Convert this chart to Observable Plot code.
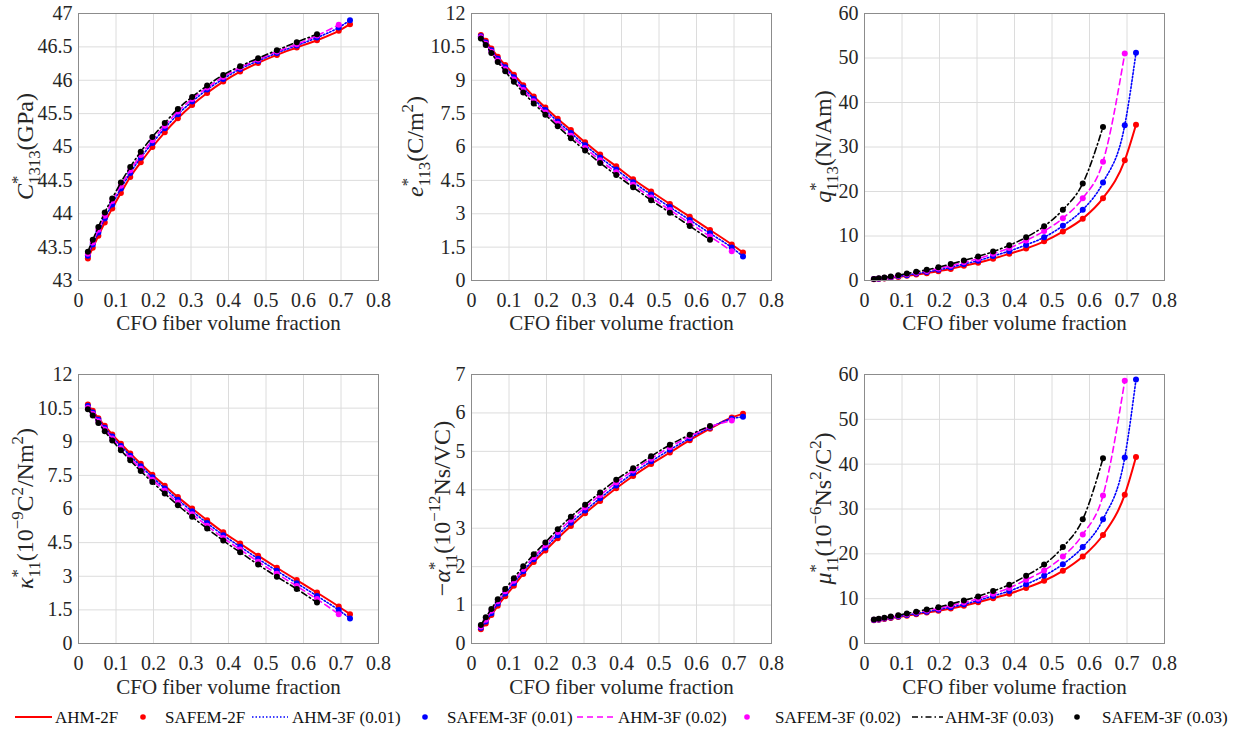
<!DOCTYPE html>
<html>
<head>
<meta charset="utf-8">
<script src="https://cdn.jsdelivr.net/npm/d3@7"></script>
<script src="https://cdn.jsdelivr.net/npm/@observablehq/plot@0.6"></script>
<style>
  html, body { margin: 0; padding: 0; background: #fff; }
  #root { position: relative; width: 1245px; height: 730px; overflow: hidden; font-family: "Liberation Serif", "Times New Roman", serif; }
  .panel { position: absolute; }
</style>
</head>
<body>
<div id="root"></div>
<script>
// ---------------- DATA ----------------
const X = [0.025, 0.038, 0.053, 0.070, 0.090, 0.113, 0.138, 0.166, 0.197, 0.230, 0.265, 0.303, 0.343, 0.386, 0.431, 0.479, 0.529, 0.582, 0.636, 0.694, 0.724];
const xTicks = [0, 0.1, 0.2, 0.3, 0.4, 0.5, 0.6, 0.7, 0.8];

const seriesNames = ["AHM-2F", "SAFEM-2F", "AHM-3F (0.01)", "SAFEM-3F (0.01)", "AHM-3F (0.02)", "SAFEM-3F (0.02)", "AHM-3F (0.03)", "SAFEM-3F (0.03)"];

// C*1313 (GPa)
const c1313_2F = [43.33, 43.49, 43.67, 43.87, 44.08, 44.31, 44.55, 44.77, 45.00, 45.22, 45.43, 45.63, 45.81, 45.98, 46.13, 46.26, 46.38, 46.49, 46.60, 46.74, 46.84];
const c1313_01 = [43.37, 43.54, 43.72, 43.93, 44.14, 44.38, 44.61, 44.84, 45.06, 45.28, 45.49, 45.68, 45.86, 46.02, 46.17, 46.29, 46.41, 46.52, 46.64, 46.79, 46.90];
const c1313_02 = [43.40, 43.57, 43.76, 43.97, 44.19, 44.42, 44.65, 44.88, 45.10, 45.32, 45.53, 45.72, 45.89, 46.05, 46.19, 46.31, 46.43, 46.54, 46.67, 46.83];
const c1313_03 = [43.43, 43.61, 43.80, 44.02, 44.23, 44.47, 44.70, 44.93, 45.15, 45.36, 45.57, 45.75, 45.92, 46.08, 46.21, 46.33, 46.45, 46.57, 46.69];
const c1313_ticks = [43, 43.5, 44, 44.5, 45, 45.5, 46, 46.5, 47];

// e*113 (C/m^2)
const e113_2F = [11.03, 10.77, 10.43, 10.06, 9.68, 9.25, 8.78, 8.27, 7.78, 7.27, 6.76, 6.21, 5.66, 5.13, 4.55, 4.00, 3.44, 2.87, 2.27, 1.62, 1.26];
const e113_01 = [10.98, 10.70, 10.35, 9.97, 9.58, 9.14, 8.67, 8.16, 7.66, 7.15, 6.63, 6.08, 5.53, 4.99, 4.42, 3.86, 3.30, 2.72, 2.12, 1.48, 1.08];
const e113_02 = [10.93, 10.64, 10.28, 9.89, 9.49, 9.03, 8.56, 8.06, 7.55, 7.04, 6.51, 5.96, 5.40, 4.86, 4.30, 3.73, 3.17, 2.58, 1.98, 1.32];
const e113_03 = [10.88, 10.58, 10.22, 9.82, 9.40, 8.93, 8.45, 7.96, 7.45, 6.93, 6.39, 5.84, 5.28, 4.74, 4.19, 3.61, 3.05, 2.45, 1.83];
const e113_ticks = [0, 1.5, 3, 4.5, 6, 7.5, 9, 10.5, 12];

// q*113 (N/Am)
const q113_2F = [0.30, 0.35, 0.45, 0.60, 0.80, 1.05, 1.35, 1.65, 2.10, 2.60, 3.30, 4.00, 4.90, 6.00, 7.20, 8.80, 11.0, 13.9, 18.5, 27.0, 35.0];
const q113_01 = [0.32, 0.40, 0.52, 0.70, 0.93, 1.20, 1.55, 1.90, 2.40, 2.95, 3.70, 4.45, 5.50, 6.60, 8.00, 9.70, 12.3, 15.9, 22.0, 34.9, 51.2];
const q113_02 = [0.33, 0.45, 0.60, 0.80, 1.06, 1.38, 1.75, 2.15, 2.70, 3.30, 4.10, 4.90, 6.00, 7.30, 9.00, 11.1, 14.0, 18.5, 26.7, 51.0];
const q113_03 = [0.35, 0.50, 0.67, 0.90, 1.20, 1.55, 1.95, 2.40, 3.00, 3.70, 4.50, 5.40, 6.50, 7.90, 9.70, 12.2, 15.9, 21.8, 34.5];
const q113_ticks = [0, 10, 20, 30, 40, 50, 60];

// kappa*11 (1e-9 C^2/Nm^2)
const k11_2F = [10.66, 10.38, 10.05, 9.71, 9.32, 8.91, 8.48, 8.02, 7.53, 7.04, 6.53, 6.02, 5.50, 4.96, 4.46, 3.92, 3.38, 2.83, 2.27, 1.65, 1.31];
const k11_01 = [10.59, 10.31, 9.98, 9.63, 9.23, 8.81, 8.38, 7.91, 7.42, 6.92, 6.41, 5.90, 5.37, 4.83, 4.32, 3.78, 3.24, 2.69, 2.12, 1.49, 1.12];
const k11_02 = [10.52, 10.24, 9.91, 9.55, 9.15, 8.72, 8.27, 7.80, 7.31, 6.81, 6.29, 5.77, 5.25, 4.71, 4.19, 3.65, 3.11, 2.56, 1.98, 1.31];
const k11_03 = [10.45, 10.17, 9.84, 9.47, 9.06, 8.62, 8.17, 7.69, 7.20, 6.69, 6.17, 5.65, 5.13, 4.59, 4.07, 3.52, 2.98, 2.43, 1.83];
const k11_ticks = [0, 1.5, 3, 4.5, 6, 7.5, 9, 10.5, 12];

// -alpha*11 (1e-12 Ns/VC)
const a11_2F = [0.37, 0.52, 0.74, 0.98, 1.23, 1.50, 1.81, 2.12, 2.42, 2.74, 3.06, 3.39, 3.71, 4.04, 4.36, 4.67, 4.97, 5.29, 5.59, 5.88, 5.98];
const a11_01 = [0.41, 0.57, 0.79, 1.04, 1.30, 1.57, 1.88, 2.19, 2.49, 2.82, 3.14, 3.46, 3.78, 4.11, 4.43, 4.74, 5.04, 5.34, 5.62, 5.85, 5.90];
const a11_02 = [0.44, 0.62, 0.85, 1.10, 1.36, 1.63, 1.94, 2.25, 2.56, 2.90, 3.22, 3.54, 3.86, 4.19, 4.50, 4.81, 5.11, 5.39, 5.64, 5.80];
const a11_03 = [0.48, 0.68, 0.90, 1.15, 1.42, 1.70, 2.01, 2.32, 2.63, 2.97, 3.30, 3.61, 3.93, 4.26, 4.56, 4.87, 5.17, 5.43, 5.66];
const a11_ticks = [0, 1, 2, 3, 4, 5, 6, 7];

// mu*11 (1e-6 Ns^2/C^2)
const mu11_2F = [5.20, 5.30, 5.45, 5.70, 5.90, 6.20, 6.50, 6.90, 7.30, 7.80, 8.40, 9.20, 10.1, 11.1, 12.4, 14.0, 16.2, 19.4, 24.2, 33.2, 41.6];
const mu11_01 = [5.25, 5.37, 5.55, 5.80, 6.03, 6.35, 6.70, 7.10, 7.55, 8.10, 8.75, 9.60, 10.6, 11.7, 13.2, 15.1, 17.7, 21.5, 27.7, 41.5, 58.9];
const mu11_02 = [5.30, 5.43, 5.65, 5.90, 6.17, 6.52, 6.90, 7.35, 7.82, 8.45, 9.15, 10.0, 11.1, 12.4, 14.2, 16.3, 19.4, 24.3, 33.0, 58.6];
const mu11_03 = [5.35, 5.50, 5.75, 6.00, 6.30, 6.70, 7.10, 7.60, 8.10, 8.80, 9.60, 10.5, 11.7, 13.1, 15.1, 17.6, 21.5, 27.7, 41.3];
const mu11_ticks = [0, 10, 20, 30, 40, 50, 60];

const xLabel = "CFO fiber volume fraction";

// ---------------- STYLE ----------------
const styles = [
  {color: "#ff0000", dash: null,          width: 2},
  {color: "#0000ff", dash: "1.5,2",       width: 1.6},
  {color: "#ff00ff", dash: "6,4",         width: 1.6},
  {color: "#000000", dash: "6,3,1.5,3",   width: 1.6}
];

const FONT = "'Liberation Serif', 'Times New Roman', serif";

// label parts: [text, kind] kind: "" normal, "i" italic, "sup", "sub", "under" (subscript under previous sup)
const panels = [
  {left: 0,   top: 0,   ml: 78, mt: 13, h: 340, mb: 60, ylx: 25, series: [c1313_2F, c1313_01, c1313_02, c1313_03], yTicks: c1313_ticks,
   label: [["C","i"],["*","sup"],["1313","under"],["(GPa)",""]]},
  {left: 400, top: 0,   ml: 71, mt: 13, h: 340, mb: 60, ylx: 15, series: [e113_2F, e113_01, e113_02, e113_03], yTicks: e113_ticks,
   label: [["e","i"],["*","sup"],["113","under"],["(C/m",""],["2","sup"],[")",""]]},
  {left: 800, top: 0,   ml: 64, mt: 13, h: 340, mb: 60, ylx: 23, series: [q113_2F, q113_01, q113_02, q113_03], yTicks: q113_ticks,
   label: [["q","i"],["*","sup"],["113","under"],["(N/Am)",""]]},
  {left: 0,   top: 340, ml: 78, mt: 34, h: 360, mb: 57, ylx: 25, series: [k11_2F, k11_01, k11_02, k11_03], yTicks: k11_ticks,
   label: [["κ","i"],["*","sup"],["11","under"],["(10",""],["−9","sup"],["C",""],["2","sup"],["/Nm",""],["2","sup"],[")",""]]},
  {left: 400, top: 340, ml: 71, mt: 34, h: 360, mb: 57, ylx: 42, series: [a11_2F, a11_01, a11_02, a11_03], yTicks: a11_ticks,
   label: [["−",""],["α","i"],["*","sup"],["11","under"],["(10",""],["−12","sup"],["Ns/VC)",""]]},
  {left: 800, top: 340, ml: 64, mt: 34, h: 360, mb: 57, ylx: 23, series: [mu11_2F, mu11_01, mu11_02, mu11_03], yTicks: mu11_ticks,
   label: [["μ","i"],["*","sup"],["11","under"],["(10",""],["−6","sup"],["Ns",""],["2","sup"],["/C",""],["2","sup"],[")",""]]}
];

const root = document.getElementById("root");
const fmt = d3.format("~g");

function addYLabel(svg, x, yc, parts) {
  const fs = 24;
  const t = d3.select(svg).append("text")
    .attr("transform", `translate(${x},${yc}) rotate(-90)`)
    .attr("text-anchor", "middle")
    .attr("dy", "0.35em")
    .attr("fill", "#262626")
    .style("font-family", FONT)
    .style("font-size", fs + "px");
  let level = 0;
  let prevWidth = 0;
  for (const [txt, kind] of parts) {
    const ts = t.append("tspan").text(txt);
    let target = 0;
    if (kind === "sup") target = -0.42 * fs;
    else if (kind === "sub" || kind === "under") target = 0.28 * fs;
    if (target - level !== 0) ts.attr("dy", target - level);
    level = target;
    if (kind === "sup" || kind === "sub" || kind === "under") ts.style("font-size", (0.7 * fs) + "px");
    if (kind === "i") ts.style("font-style", "italic");
    if (kind === "under") ts.attr("dx", -prevWidth);
    prevWidth = ts.node().getComputedTextLength();
  }
}

for (const p of panels) {
  const frameW = 300;
  const W = 400;
  const marks = [
    Plot.gridX(xTicks, {stroke: "#dcdcdc", strokeOpacity: 1, strokeWidth: 1}),
    Plot.gridY(p.yTicks, {stroke: "#dcdcdc", strokeOpacity: 1, strokeWidth: 1}),
    Plot.axisX({ticks: xTicks, tickSize: 0, tickPadding: 12, tickFormat: fmt, label: null, fontSize: 20, fill: "#262626"}),
    Plot.axisY({ticks: p.yTicks, tickSize: 0, tickPadding: 6, tickFormat: fmt, label: null, fontSize: 20, fill: "#262626"}),
    Plot.text([xLabel], {frameAnchor: "bottom", dy: p.top === 0 ? 49 : 50, fontSize: 21, fill: "#262626"})
  ];
  p.series.forEach((vals, k) => {
    const st = styles[k];
    const rows = vals.map((v, i) => ({x: X[i], y: v}));
    marks.push(Plot.line(rows, {x: "x", y: "y", stroke: st.color, strokeWidth: st.width, strokeDasharray: st.dash, curve: "monotone-x"}));
    marks.push(Plot.dot(rows, {x: "x", y: "y", fill: st.color, r: 3, stroke: "none"}));
  });
  marks.push(Plot.frame({stroke: "#8c8c8c", strokeWidth: 1}));

  const svg = Plot.plot({
    width: W,
    height: p.h,
    marginLeft: p.ml,
    marginRight: W - p.ml - frameW,
    marginTop: p.mt,
    marginBottom: p.mb,
    style: {fontFamily: FONT, fontSize: "20px", background: "transparent", overflow: "visible"},
    x: {domain: [0, 0.8]},
    y: {domain: [p.yTicks[0], p.yTicks[p.yTicks.length - 1]]},
    marks
  });
  const div = document.createElement("div");
  div.className = "panel";
  div.style.left = p.left + "px";
  div.style.top = p.top + "px";
  div.appendChild(svg);
  root.appendChild(div);
  addYLabel(svg, p.ylx, p.mt + (p.h - p.mt - p.mb) / 2, p.label);
}

// ---------------- LEGEND ----------------
const legendLayout = [
  {kind: "line", s: 0, sx: 15, sw: 37, tx: 55},
  {kind: "dot",  s: 0, sx: 143, tx: 165},
  {kind: "line", s: 1, sx: 252, sw: 36, tx: 292},
  {kind: "dot",  s: 1, sx: 425, tx: 447},
  {kind: "line", s: 2, sx: 577, sw: 36, tx: 618},
  {kind: "dot",  s: 2, sx: 747, tx: 775},
  {kind: "line", s: 3, sx: 912, sw: 31, tx: 945},
  {kind: "dot",  s: 3, sx: 1077, tx: 1102}
];
const legSvg = d3.select(root).append("svg")
  .attr("width", 1245).attr("height", 30)
  .style("position", "absolute").style("left", "0px").style("top", "703px");
legendLayout.forEach((it, i) => {
  const st = styles[it.s];
  const cy = 14;
  if (it.kind === "line") {
    legSvg.append("line").attr("x1", it.sx).attr("x2", it.sx + it.sw).attr("y1", cy).attr("y2", cy)
      .attr("stroke", st.color).attr("stroke-width", st.width)
      .attr("stroke-dasharray", st.dash);
  } else {
    legSvg.append("circle").attr("cx", it.sx).attr("cy", cy).attr("r", 2.8).attr("fill", st.color);
  }
  legSvg.append("text").attr("x", it.tx).attr("y", cy).attr("dy", "0.35em")
    .attr("fill", "#111").style("font-family", FONT).style("font-size", "17px")
    .text(seriesNames[i]);
});
</script>
</body>
</html>
